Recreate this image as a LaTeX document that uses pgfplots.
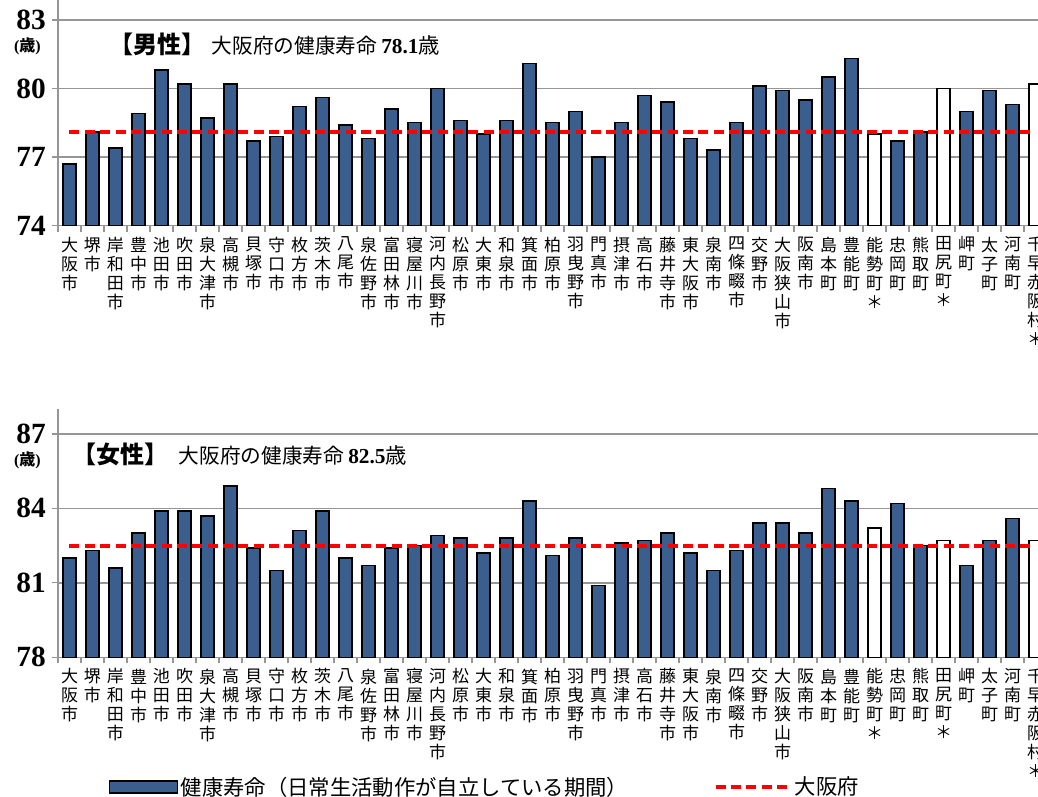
\documentclass[border=0pt]{standalone}
\usepackage{fontspec}
\setmainfont{Liberation Serif}
\newfontfamily\jp{Noto Sans CJK JP}
\usepackage{pgfplots}
\pgfplotsset{compat=1.18}
\definecolor{barblue}{RGB}{58,95,142}
\definecolor{gridgray}{RGB}{150,150,150}

\pgfplotsset{
 muni/.style={
  scale only axis, width=741.75pt,
  xmin=-0.5, xmax=42.5,
  axis x line*=bottom, axis y line*=left,
  axis line style={gridgray, line width=1.1pt, -},
  xtick={0,...,42},
  minor xtick={-0.5,0.5,...,42.5},
  major tick length=0pt, minor tick length=4.5pt,
  tick align=outside,
  tick style={gridgray, line width=1pt},
  ymajorgrids, grid style={gridgray, line width=1.1pt},
  xticklabels={{大\\阪\\市},{堺\\市},{岸\\和\\田\\市},{豊\\中\\市},{池\\田\\市},{吹\\田\\市},{泉\\大\\津\\市},{高\\槻\\市},{貝\\塚\\市},{守\\口\\市},{枚\\方\\市},{茨\\木\\市},{八\\尾\\市},{泉\\佐\\野\\市},{富\\田\\林\\市},{寝\\屋\\川\\市},{河\\内\\長\\野\\市},{松\\原\\市},{大\\東\\市},{和\\泉\\市},{箕\\面\\市},{柏\\原\\市},{羽\\曳\\野\\市},{門\\真\\市},{摂\\津\\市},{高\\石\\市},{藤\\井\\寺\\市},{東\\大\\阪\\市},{泉\\南\\市},{四\\條\\畷\\市},{交\\野\\市},{大\\阪\\狭\\山\\市},{阪\\南\\市},{島\\本\\町},{豊\\能\\町},{能\\勢\\町\\＊},{忠\\岡\\町},{熊\\取\\町},{田\\尻\\町\\＊},{岬\\町},{太\\子\\町},{河\\南\\町},{千\\早\\赤\\阪\\村\\＊}},
  xticklabel style={font=\jp\fontsize{12.75}{14.25}\selectfont, align=center, anchor=north, yshift=-5pt, text=black},
  yticklabel style={font=\bfseries\fontsize{22}{22}\selectfont, inner sep=0pt, anchor=east, xshift=-9pt},
 },
 bluebar/.style={ybar, bar width=10pt, bar shift=0pt, fill=barblue, draw=black, line width=1.1pt},
 whitebar/.style={ybar, bar width=10pt, bar shift=0pt, fill=white, draw=black, line width=1.1pt},
 avgline/.style={red, line width=3pt, dash pattern=on 7.5pt off 4pt},
}

\begin{document}
\begin{tikzpicture}
\path[use as bounding box] (0pt,0pt) rectangle (778.5pt,-597pt);
\clip (0pt,0pt) rectangle (778.5pt,-597pt);

% ---------- male ----------
\begin{axis}[muni, at={(43.5pt,-169.125pt)}, anchor=south west, height=171.375pt,
  ymin=74, ymax=84, ytick={74,77,80,83}, yticklabels={74,77,80,83}, minor ytick={74,77,80,83}]
\addplot[bluebar] coordinates {
(0,76.7) (1,78.1) (2,77.4) (3,78.9) (4,80.8) (5,80.2) (6,78.7) (7,80.2) (8,77.7) (9,77.9)
(10,79.2) (11,79.6) (12,78.4) (13,77.8) (14,79.1) (15,78.5) (16,80.0) (17,78.6) (18,78.0) (19,78.6)
(20,81.1) (21,78.5) (22,79.0) (23,77.0) (24,78.5) (25,79.7) (26,79.4) (27,77.8) (28,77.3) (29,78.5)
(30,80.1) (31,79.9) (32,79.5) (33,80.5) (34,81.3) (36,77.7) (37,78.1) (39,79.0) (40,79.9) (41,79.3)};
\addplot[whitebar] coordinates {(35,78.0) (38,80.0) (42,80.2)};
\addplot[avgline] coordinates {(0,78.1) (42,78.1)};
\end{axis}

% ---------- female ----------
\begin{axis}[muni, at={(43.5pt,-492.975pt)}, anchor=south west, height=186.225pt,
  ymin=78, ymax=88, ytick={78,81,84,87}, yticklabels={78,81,84,87}, minor ytick={78,81,84,87},
  legend columns=2,
  legend style={at={(0.051,-0.522)}, anchor=west, draw=none, fill=none,
    font=\jp\fontsize{16}{16}\selectfont, inner sep=0pt,
    /tikz/every even column/.append style={column sep=62pt}},
  legend cell align=left]
\addplot[bluebar, legend image code/.code={\draw[fill=barblue, draw=black, line width=1.1pt] (0pt,-4.5pt) rectangle (51pt,4.5pt);}] coordinates {
(0,82.0) (1,82.3) (2,81.6) (3,83.0) (4,83.9) (5,83.9) (6,83.7) (7,84.9) (8,82.4) (9,81.5)
(10,83.1) (11,83.9) (12,82.0) (13,81.7) (14,82.4) (15,82.5) (16,82.9) (17,82.8) (18,82.2) (19,82.8)
(20,84.3) (21,82.1) (22,82.8) (23,80.9) (24,82.6) (25,82.7) (26,83.0) (27,82.2) (28,81.5) (29,82.3)
(30,83.4) (31,83.4) (32,83.0) (33,84.8) (34,84.3) (36,84.2) (37,82.5) (39,81.7) (40,82.7) (41,83.6)};
\addlegendentry{健康寿命（日常生活動作が自立している期間）}
\addplot[whitebar, forget plot] coordinates {(35,83.2) (38,82.7) (42,82.7)};
\addplot[avgline, legend image code/.code={\draw[red, line width=3pt, dash pattern=on 7.5pt off 4pt] (0pt,0pt) -- (56pt,0pt);}] coordinates {(0,82.5) (42,82.5)};
\addlegendentry{大阪府}
\end{axis}

% ---------- annotations ----------
\node[anchor=base west, inner sep=0pt] at (81.75pt,-39.75pt)
  {{\jp\bfseries\fontsize{18}{18}\selectfont 【男性】}\hspace{5pt}{\jp\fontsize{15.5}{15.5}\selectfont 大阪府の健康寿命}\hspace{3pt}{\bfseries\fontsize{16}{16}\selectfont 78.1}{\jp\fontsize{16}{16}\selectfont 歳}};
\node[anchor=base west, inner sep=0pt] at (54pt,-347.25pt)
  {{\jp\bfseries\fontsize{18}{18}\selectfont 【女性】}\hspace{8pt}{\jp\fontsize{15.5}{15.5}\selectfont 大阪府の健康寿命}\hspace{3pt}{\bfseries\fontsize{16}{16}\selectfont 82.5}{\jp\fontsize{16}{16}\selectfont 歳}};
\node[inner sep=0pt] at (20.6pt,-34.5pt) {\fontsize{12}{12}\selectfont\bfseries(\jp 歳\rmfamily\bfseries)};
\node[inner sep=0pt] at (20.6pt,-345pt) {\fontsize{12}{12}\selectfont\bfseries(\jp 歳\rmfamily\bfseries)};
\end{tikzpicture}
\end{document}
